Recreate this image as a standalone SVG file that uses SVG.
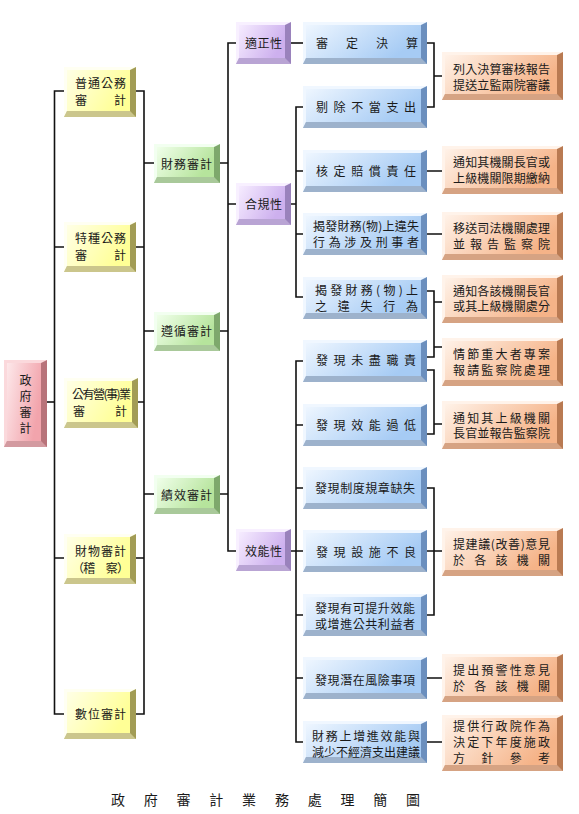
<svg xmlns="http://www.w3.org/2000/svg" width="579" height="814" viewBox="0 0 579 814">
<style>
  .t{font-family:"Noto Sans CJK TC","Noto Sans CJK SC",sans-serif;font-size:12px;fill:#1a1a1a}
  .root .br{fill:#b8737a}.root .bb{fill:#d39aa0}.root .bt{fill:#fbd9dc}.root .face{fill:url(#gPink)}
  .yel .br{fill:#a29c55}.yel .bb{fill:#cbc68c}.yel .bt{fill:#fffff2}.yel .face{fill:url(#gYel)}
  .grn .br{fill:#7ea86c}.grn .bb{fill:#a9c99a}.grn .bt{fill:#f2fff0}.grn .face{fill:url(#gGrn)}
  .pur .br{fill:#9a82bc}.pur .bb{fill:#b9a4d4}.pur .bt{fill:#f8f0ff}.pur .face{fill:url(#gPur)}
  .blu .br{fill:#6b8fbe}.blu .bb{fill:#9db2cc}.blu .bt{fill:#f0f7ff}.blu .face{fill:url(#gBlu)}
  .org .br{fill:#b97a52}.org .bb{fill:#d6a383}.org .bt{fill:#fff3ea}.org .face{fill:url(#gOrg)}
  .ln{fill:none;stroke:#111;stroke-width:1.6}
</style>
<defs>
  <linearGradient id="gPink" x1="0" y1="0" x2="1" y2="0.4"><stop offset="0" stop-color="#fde8ea"/><stop offset="1" stop-color="#f2a4ac"/></linearGradient>
  <linearGradient id="gYel" x1="0" y1="0" x2="1" y2="0.4"><stop offset="0" stop-color="#ffffe6"/><stop offset="1" stop-color="#ffff96"/></linearGradient>
  <linearGradient id="gGrn" x1="0" y1="0" x2="1" y2="0.4"><stop offset="0" stop-color="#f0ffea"/><stop offset="1" stop-color="#b6e49c"/></linearGradient>
  <linearGradient id="gPur" x1="0" y1="0" x2="1" y2="0.4"><stop offset="0" stop-color="#f6ecff"/><stop offset="1" stop-color="#cdb0ee"/></linearGradient>
  <linearGradient id="gBlu" x1="0" y1="0" x2="1" y2="0.4"><stop offset="0" stop-color="#eef6ff"/><stop offset="1" stop-color="#a6cbf4"/></linearGradient>
  <linearGradient id="gOrg" x1="0" y1="0" x2="1" y2="0.4"><stop offset="0" stop-color="#fff2e8"/><stop offset="1" stop-color="#f5b388"/></linearGradient>
</defs>
<rect width="579" height="814" fill="#fff"/>

<g id="connectors" class="ln">
  <path d="M47,402H54.5"/>
  <path d="M64,91H54.5V714H64M54.5,247H64M54.5,558H64"/>
  <path d="M136,91H144V714H136M136,247H144M138,402H144M136,558H144M144,163H154M144,331H154M144,494H154"/>
  <path d="M236,43H228V551H236M220,163H228M220,331H228M220,494H228M228,204H236"/>
  <path d="M291,43H303"/>
  <path d="M291,204H296M303,107H296V297H303M296,171H303M296,234H303"/>
  <path d="M291,551H303M303,361H296V742H303M296,425H303M296,488H303M296,615H303M296,678H303"/>
  <path d="M427,43H434V107H427M434,76H442"/>
  <path d="M427,171H442M427,234H442"/>
  <path d="M427,291H434V357H427M434,302H442M434,347H442"/>
  <path d="M427,370H434V434H427M434,424H442"/>
  <path d="M427,488H434V615H427M427,551H442"/>
  <path d="M427,678H442M427,742H442"/>
</g>

<g id="n-root" class="root">
  <rect class="br" x="4" y="360" width="43" height="87"/>
  <polygon class="bb" points="4,447 7,441 41,441 47,447"/>
  <polygon class="bt" points="4,360 47,360 41,363 7,363 7,441 4,447"/>
  <rect class="face" x="7" y="363" width="34" height="78"/>
  <text class="t" x="25.5" y="384.5" text-anchor="middle">政</text>
  <text class="t" x="25.5" y="400.5" text-anchor="middle">府</text>
  <text class="t" x="25.5" y="416.5" text-anchor="middle">審</text>
  <text class="t" x="25.5" y="432.5" text-anchor="middle">計</text>
</g>

<g id="n-y1" class="yel">
  <rect class="br" x="64" y="67" width="72" height="50"/>
  <polygon class="bb" points="64,117 67,111 130,111 136,117"/>
  <polygon class="bt" points="64,67 136,67 130,70 67,70 67,111 64,117"/>
  <rect class="face" x="67" y="70" width="63" height="41"/>
  <text class="t" x="75" y="87.5" textLength="51" lengthAdjust="spacing">普通公務</text>
  <text class="t" x="75" y="104.5" textLength="51" lengthAdjust="spacing">審計</text>
</g>
<g id="n-y2" class="yel">
  <rect class="br" x="64" y="222" width="72" height="50"/>
  <polygon class="bb" points="64,272 67,266 130,266 136,272"/>
  <polygon class="bt" points="64,222 136,222 130,225 67,225 67,266 64,272"/>
  <rect class="face" x="67" y="225" width="63" height="41"/>
  <text class="t" x="75" y="242.5" textLength="51" lengthAdjust="spacing">特種公務</text>
  <text class="t" x="75" y="259.5" textLength="51" lengthAdjust="spacing">審計</text>
</g>
<g id="n-y3" class="yel">
  <rect class="br" x="64" y="378" width="74" height="50"/>
  <polygon class="bb" points="64,428 67,422 132,422 138,428"/>
  <polygon class="bt" points="64,378 138,378 132,381 67,381 67,422 64,428"/>
  <rect class="face" x="67" y="381" width="65" height="41"/>
  <text class="t" x="72" y="398.5" textLength="59" lengthAdjust="spacing">公有營(事)業</text>
  <text class="t" x="73" y="416" textLength="54" lengthAdjust="spacing">審計</text>
</g>
<g id="n-y4" class="yel">
  <rect class="br" x="64" y="534" width="72" height="50"/>
  <polygon class="bb" points="64,584 67,578 130,578 136,584"/>
  <polygon class="bt" points="64,534 136,534 130,537 67,537 67,578 64,584"/>
  <rect class="face" x="67" y="537" width="63" height="41"/>
  <text class="t" x="75" y="556" textLength="51" lengthAdjust="spacing">財物審計</text>
  <text class="t" x="72" y="572.5" textLength="57" lengthAdjust="spacing">（稽　察）</text>
</g>
<g id="n-y5" class="yel">
  <rect class="br" x="64" y="689" width="72" height="50"/>
  <polygon class="bb" points="64,739 67,733 130,733 136,739"/>
  <polygon class="bt" points="64,689 136,689 130,692 67,692 67,733 64,739"/>
  <rect class="face" x="67" y="692" width="63" height="41"/>
  <text class="t" x="75" y="718.5" textLength="51" lengthAdjust="spacing">數位審計</text>
</g>

<g id="n-g1" class="grn">
  <rect class="br" x="154" y="144" width="66" height="39"/>
  <polygon class="bb" points="154,183 157,177 214,177 220,183"/>
  <polygon class="bt" points="154,144 220,144 214,147 157,147 157,177 154,183"/>
  <rect class="face" x="157" y="147" width="57" height="30"/>
  <text class="t" x="161" y="168.5" textLength="51" lengthAdjust="spacing">財務審計</text>
</g>
<g id="n-g2" class="grn">
  <rect class="br" x="154" y="312" width="66" height="39"/>
  <polygon class="bb" points="154,351 157,345 214,345 220,351"/>
  <polygon class="bt" points="154,312 220,312 214,315 157,315 157,345 154,351"/>
  <rect class="face" x="157" y="315" width="57" height="30"/>
  <text class="t" x="161" y="336" textLength="51" lengthAdjust="spacing">遵循審計</text>
</g>
<g id="n-g3" class="grn">
  <rect class="br" x="154" y="475" width="66" height="39"/>
  <polygon class="bb" points="154,514 157,508 214,508 220,514"/>
  <polygon class="bt" points="154,475 220,475 214,478 157,478 157,508 154,514"/>
  <rect class="face" x="157" y="478" width="57" height="30"/>
  <text class="t" x="161" y="499.5" textLength="51" lengthAdjust="spacing">績效審計</text>
</g>

<g id="n-p1" class="pur">
  <rect class="br" x="236" y="22" width="55" height="42"/>
  <polygon class="bb" points="236,64 239,58 285,58 291,64"/>
  <polygon class="bt" points="236,22 291,22 285,25 239,25 239,58 236,64"/>
  <rect class="face" x="239" y="25" width="46" height="33"/>
  <text class="t" x="245" y="47.5" textLength="37" lengthAdjust="spacing">適正性</text>
</g>
<g id="n-p2" class="pur">
  <rect class="br" x="236" y="183" width="55" height="42"/>
  <polygon class="bb" points="236,225 239,219 285,219 291,225"/>
  <polygon class="bt" points="236,183 291,183 285,186 239,186 239,219 236,225"/>
  <rect class="face" x="239" y="186" width="46" height="33"/>
  <text class="t" x="245" y="208.5" textLength="37" lengthAdjust="spacing">合規性</text>
</g>
<g id="n-p3" class="pur">
  <rect class="br" x="236" y="529" width="55" height="42"/>
  <polygon class="bb" points="236,571 239,565 285,565 291,571"/>
  <polygon class="bt" points="236,529 291,529 285,532 239,532 239,565 236,571"/>
  <rect class="face" x="239" y="532" width="46" height="33"/>
  <text class="t" x="245" y="556" textLength="37" lengthAdjust="spacing">效能性</text>
</g>

<g id="n-b1" class="blu">
  <rect class="br" x="303" y="22" width="124" height="42"/>
  <polygon class="bb" points="303,64 306,58 421,58 427,64"/>
  <polygon class="bt" points="303,22 427,22 421,25 306,25 306,58 303,64"/>
  <rect class="face" x="306" y="25" width="115" height="33"/>
  <text class="t" x="316" y="47.5" textLength="102" lengthAdjust="spacing">審定決算</text>
</g>
<g id="n-b2" class="blu">
  <rect class="br" x="303" y="86" width="124" height="42"/>
  <polygon class="bb" points="303,128 306,122 421,122 427,128"/>
  <polygon class="bt" points="303,86 427,86 421,89 306,89 306,122 303,128"/>
  <rect class="face" x="306" y="89" width="115" height="33"/>
  <text class="t" x="316" y="111.5" textLength="100" lengthAdjust="spacing">剔除不當支出</text>
</g>
<g id="n-b3" class="blu">
  <rect class="br" x="303" y="150" width="124" height="42"/>
  <polygon class="bb" points="303,192 306,186 421,186 427,192"/>
  <polygon class="bt" points="303,150 427,150 421,153 306,153 306,186 303,192"/>
  <rect class="face" x="306" y="153" width="115" height="33"/>
  <text class="t" x="316" y="176" textLength="100" lengthAdjust="spacing">核定賠償責任</text>
</g>
<g id="n-b4" class="blu">
  <rect class="br" x="303" y="213" width="124" height="42"/>
  <polygon class="bb" points="303,255 306,249 421,249 427,255"/>
  <polygon class="bt" points="303,213 427,213 421,216 306,216 306,249 303,255"/>
  <rect class="face" x="306" y="216" width="115" height="33"/>
  <text class="t" x="313" y="231" textLength="106" lengthAdjust="spacing">揭發財務(物)上違失</text>
  <text class="t" x="313" y="247" textLength="106" lengthAdjust="spacing">行為涉及刑事者</text>
</g>
<g id="n-b5" class="blu">
  <rect class="br" x="303" y="277" width="124" height="42"/>
  <polygon class="bb" points="303,319 306,313 421,313 427,319"/>
  <polygon class="bt" points="303,277 427,277 421,280 306,280 306,313 303,319"/>
  <rect class="face" x="306" y="280" width="115" height="33"/>
  <text class="t" x="315" y="295" textLength="103" lengthAdjust="spacing">揭發財務(物)上</text>
  <text class="t" x="315" y="310.7" textLength="103" lengthAdjust="spacing">之違失行為</text>
</g>
<g id="n-b6" class="blu">
  <rect class="br" x="303" y="340" width="124" height="42"/>
  <polygon class="bb" points="303,382 306,376 421,376 427,382"/>
  <polygon class="bt" points="303,340 427,340 421,343 306,343 306,376 303,382"/>
  <rect class="face" x="306" y="343" width="115" height="33"/>
  <text class="t" x="316" y="365" textLength="100" lengthAdjust="spacing">發現未盡職責</text>
</g>
<g id="n-b7" class="blu">
  <rect class="br" x="303" y="404" width="124" height="42"/>
  <polygon class="bb" points="303,446 306,440 421,440 427,446"/>
  <polygon class="bt" points="303,404 427,404 421,407 306,407 306,440 303,446"/>
  <rect class="face" x="306" y="407" width="115" height="33"/>
  <text class="t" x="316" y="429.5" textLength="100" lengthAdjust="spacing">發現效能過低</text>
</g>
<g id="n-b8" class="blu">
  <rect class="br" x="303" y="467" width="124" height="42"/>
  <polygon class="bb" points="303,509 306,503 421,503 427,509"/>
  <polygon class="bt" points="303,467 427,467 421,470 306,470 306,503 303,509"/>
  <rect class="face" x="306" y="470" width="115" height="33"/>
  <text class="t" x="315" y="493" textLength="100" lengthAdjust="spacing">發現制度規章缺失</text>
</g>
<g id="n-b9" class="blu">
  <rect class="br" x="303" y="530" width="124" height="42"/>
  <polygon class="bb" points="303,572 306,566 421,566 427,572"/>
  <polygon class="bt" points="303,530 427,530 421,533 306,533 306,566 303,572"/>
  <rect class="face" x="306" y="533" width="115" height="33"/>
  <text class="t" x="316" y="557" textLength="100" lengthAdjust="spacing">發現設施不良</text>
</g>
<g id="n-b10" class="blu">
  <rect class="br" x="303" y="594" width="124" height="42"/>
  <polygon class="bb" points="303,636 306,630 421,630 427,636"/>
  <polygon class="bt" points="303,594 427,594 421,597 306,597 306,630 303,636"/>
  <rect class="face" x="306" y="597" width="115" height="33"/>
  <text class="t" x="315" y="613.4" textLength="100" lengthAdjust="spacing">發現有可提升效能</text>
  <text class="t" x="315" y="629.1" textLength="100" lengthAdjust="spacing">或增進公共利益者</text>
</g>
<g id="n-b11" class="blu">
  <rect class="br" x="303" y="657" width="124" height="42"/>
  <polygon class="bb" points="303,699 306,693 421,693 427,699"/>
  <polygon class="bt" points="303,657 427,657 421,660 306,660 306,693 303,699"/>
  <rect class="face" x="306" y="660" width="115" height="33"/>
  <text class="t" x="315" y="684.5" textLength="100" lengthAdjust="spacing">發現潛在風險事項</text>
</g>
<g id="n-b12" class="blu">
  <rect class="br" x="303" y="721" width="124" height="42"/>
  <polygon class="bb" points="303,763 306,757 421,757 427,763"/>
  <polygon class="bt" points="303,721 427,721 421,724 306,724 306,757 303,763"/>
  <rect class="face" x="306" y="724" width="115" height="33"/>
  <text class="t" x="312" y="741" textLength="108" lengthAdjust="spacing">財務上增進效能與</text>
  <text class="t" x="312" y="756.7" textLength="108" lengthAdjust="spacing">減少不經濟支出建議</text>
</g>

<g id="n-o1" class="org">
  <rect class="br" x="442" y="52" width="121" height="48"/>
  <polygon class="bb" points="442,100 445,94 557,94 563,100"/>
  <polygon class="bt" points="442,52 563,52 557,55 445,55 445,94 442,100"/>
  <rect class="face" x="445" y="55" width="112" height="39"/>
  <text class="t" x="453" y="74" textLength="97" lengthAdjust="spacing">列入決算審核報告</text>
  <text class="t" x="453" y="89.7" textLength="97" lengthAdjust="spacing">提送立監兩院審議</text>
</g>
<g id="n-o2" class="org">
  <rect class="br" x="442" y="146" width="121" height="48"/>
  <polygon class="bb" points="442,194 445,188 557,188 563,194"/>
  <polygon class="bt" points="442,146 563,146 557,149 445,149 445,188 442,194"/>
  <rect class="face" x="445" y="149" width="112" height="39"/>
  <text class="t" x="453" y="167" textLength="97" lengthAdjust="spacing">通知其機關長官或</text>
  <text class="t" x="453" y="182.7" textLength="97" lengthAdjust="spacing">上級機關限期繳納</text>
</g>
<g id="n-o3" class="org">
  <rect class="br" x="442" y="212" width="121" height="48"/>
  <polygon class="bb" points="442,260 445,254 557,254 563,260"/>
  <polygon class="bt" points="442,212 563,212 557,215 445,215 445,254 442,260"/>
  <rect class="face" x="445" y="215" width="112" height="39"/>
  <text class="t" x="453" y="233" textLength="97" lengthAdjust="spacing">移送司法機關處理</text>
  <text class="t" x="453" y="248.7" textLength="97" lengthAdjust="spacing">並報告監察院</text>
</g>
<g id="n-o4" class="org">
  <rect class="br" x="442" y="275" width="121" height="48"/>
  <polygon class="bb" points="442,323 445,317 557,317 563,323"/>
  <polygon class="bt" points="442,275 563,275 557,278 445,278 445,317 442,323"/>
  <rect class="face" x="445" y="278" width="112" height="39"/>
  <text class="t" x="453" y="295.5" textLength="97" lengthAdjust="spacing">通知各該機關長官</text>
  <text class="t" x="453" y="311.2" textLength="97" lengthAdjust="spacing">或其上級機關處分</text>
</g>
<g id="n-o5" class="org">
  <rect class="br" x="442" y="338" width="121" height="48"/>
  <polygon class="bb" points="442,386 445,380 557,380 563,386"/>
  <polygon class="bt" points="442,338 563,338 557,341 445,341 445,380 442,386"/>
  <rect class="face" x="445" y="341" width="112" height="39"/>
  <text class="t" x="453" y="359" textLength="97" lengthAdjust="spacing">情節重大者專案</text>
  <text class="t" x="453" y="374.7" textLength="97" lengthAdjust="spacing">報請監察院處理</text>
</g>
<g id="n-o6" class="org">
  <rect class="br" x="442" y="401" width="121" height="48"/>
  <polygon class="bb" points="442,449 445,443 557,443 563,449"/>
  <polygon class="bt" points="442,401 563,401 557,404 445,404 445,443 442,449"/>
  <rect class="face" x="445" y="404" width="112" height="39"/>
  <text class="t" x="453" y="422.5" textLength="97" lengthAdjust="spacing">通知其上級機關</text>
  <text class="t" x="453" y="438.2" textLength="97" lengthAdjust="spacing">長官並報告監察院</text>
</g>
<g id="n-o7" class="org">
  <rect class="br" x="442" y="528" width="121" height="48"/>
  <polygon class="bb" points="442,576 445,570 557,570 563,576"/>
  <polygon class="bt" points="442,528 563,528 557,531 445,531 445,570 442,576"/>
  <rect class="face" x="445" y="531" width="112" height="39"/>
  <text class="t" x="453" y="549" textLength="97" lengthAdjust="spacing">提建議(改善)意見</text>
  <text class="t" x="453" y="564.7" textLength="97" lengthAdjust="spacing">於各該機關</text>
</g>
<g id="n-o8" class="org">
  <rect class="br" x="442" y="654" width="121" height="48"/>
  <polygon class="bb" points="442,702 445,696 557,696 563,702"/>
  <polygon class="bt" points="442,654 563,654 557,657 445,657 445,696 442,702"/>
  <rect class="face" x="445" y="657" width="112" height="39"/>
  <text class="t" x="453" y="675.3" textLength="97" lengthAdjust="spacing">提出預警性意見</text>
  <text class="t" x="453" y="691" textLength="97" lengthAdjust="spacing">於各該機關</text>
</g>
<g id="n-o9" class="org">
  <rect class="br" x="442" y="715" width="121" height="56"/>
  <polygon class="bb" points="442,771 445,765 557,765 563,771"/>
  <polygon class="bt" points="442,715 563,715 557,718 445,718 445,765 442,771"/>
  <rect class="face" x="445" y="718" width="112" height="47"/>
  <text class="t" x="453" y="731" textLength="97" lengthAdjust="spacing">提供行政院作為</text>
  <text class="t" x="453" y="747.2" textLength="97" lengthAdjust="spacing">決定下年度施政</text>
  <text class="t" x="453" y="763.4" textLength="97" lengthAdjust="spacing">方針參考</text>
</g>

<text id="title" class="t" style="font-size:14px" x="111" y="805" textLength="309" lengthAdjust="spacing">政府審計業務處理簡圖</text>
</svg>
